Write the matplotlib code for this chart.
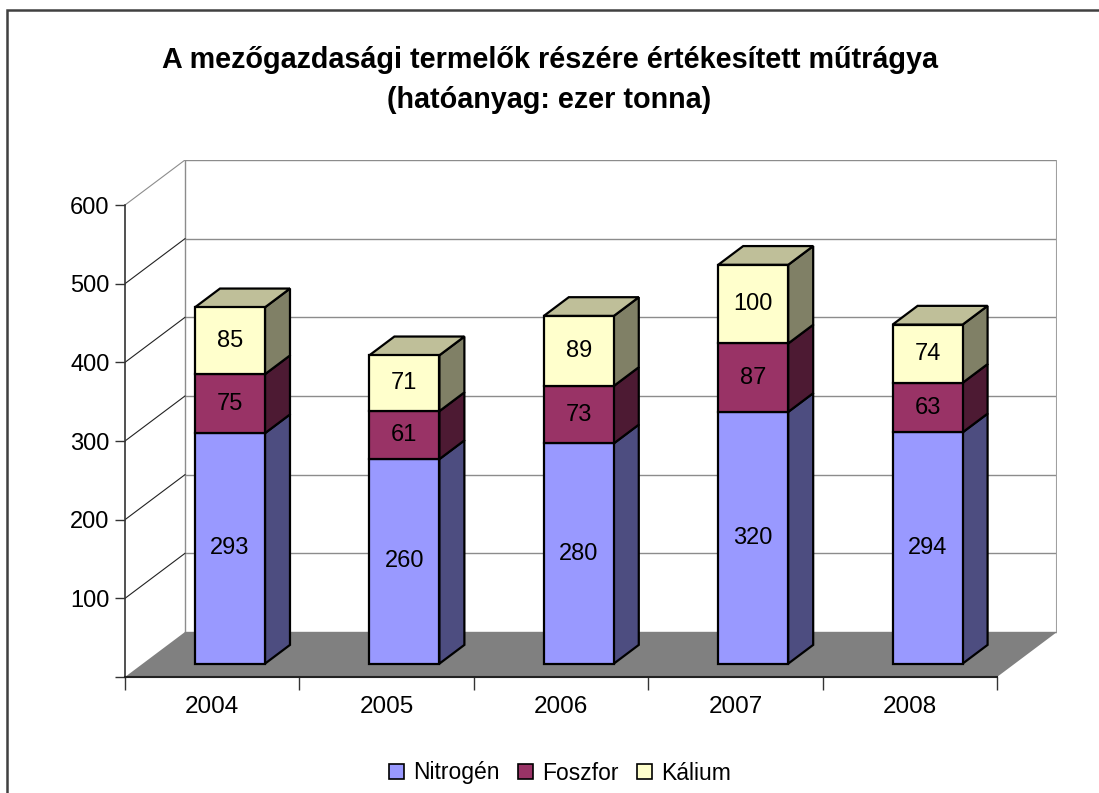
import matplotlib
matplotlib.use("Agg")
import matplotlib.pyplot as plt
from matplotlib.patches import Polygon, Rectangle, Patch
import numpy as np

plt.rcParams['font.family'] = ['Liberation Sans', 'DejaVu Sans']

years = ['2004', '2005', '2006', '2007', '2008']
nitrogen = [293, 260, 280, 320, 294]
foszfor = [75, 61, 73, 87, 63]
kalium = [85, 71, 89, 100, 74]
series_names = ['Nitrogén', 'Foszfor', 'Kálium']
yticks = [0, 100, 200, 300, 400, 500, 600]
title_lines = ['A mezőgazdasági termelők részére értékesített műtrágya',
               '(hatóanyag: ezer tonna)']

front_colors = ['#9999FF', '#993366', '#FFFFCC']
side_colors = ['#4D4D80', '#4D1A33', '#808066']
top_colors = ['#4D4D80', '#4D1A33', '#BFBF99']

W_PX, H_PX = 1099, 793
fig = plt.figure(figsize=(W_PX / 100, H_PX / 100), dpi=100)

# outer frame
fig.patches.append(Rectangle((7 / W_PX, -0.05), 1.2, (783 / H_PX) + 0.05,
                             transform=fig.transFigure, fill=False,
                             edgecolor='#404040', linewidth=1.8))

# geometry (depth offsets in data units)
n = len(years)
ymax = yticks[-1]
DX = 60 / 174.4
DY = 45 / 0.7864
left, right, bottom, top = 125, 1057, 677, 160
ax = fig.add_axes([left / W_PX, (H_PX - bottom) / H_PX,
                   (right - left) / W_PX, (bottom - top) / H_PX])
ax.set_xlim(0, n + DX)
ax.set_ylim(0, ymax + DY)
ax.patch.set_alpha(0)

grid_gray = '#8C8C8C'
# back wall gridlines
for v in yticks:
    ax.plot([DX, n + DX], [v + DY, v + DY], color=grid_gray, lw=1.0, zorder=1)
ax.plot([DX, DX], [DY, ymax + DY], color=grid_gray, lw=1.0, zorder=1)
ax.plot([n + DX, n + DX], [DY, ymax + DY], color='#A0A0A0', lw=1.5, zorder=1)
# side wall diagonals
for v in yticks[1:]:
    c = grid_gray if v == ymax else '#222222'
    ax.plot([0, DX], [v, v + DY], color=c, lw=0.8, zorder=1)

# floor
ax.add_patch(Polygon([(0, 0), (n, 0), (n + DX, DY), (DX, DY)], closed=True,
                     facecolor='#808080', edgecolor='none', zorder=2))

# bars
OXf = 0.102
OY = OXf / DX * DY
BW = 70 / 174.4
BX = 25 / 174.4
BY = BX / DX * DY
xc = np.arange(n) + 0.5
series = [nitrogen, foszfor, kalium]
cum = np.zeros(n)
for s, vals in enumerate(series):
    vals = np.array(vals, dtype=float)
    bx = xc + OXf
    ax.bar(bx, vals, width=BW, bottom=OY + cum, color=front_colors[s],
           edgecolor='black', linewidth=1.6, zorder=5)
    for i in range(n):
        xr = bx[i] + BW / 2
        y0 = OY + cum[i]
        y1 = y0 + vals[i]
        ax.add_patch(Polygon([(xr, y0), (xr, y1), (xr + BX, y1 + BY), (xr + BX, y0 + BY)],
                             closed=True, facecolor=side_colors[s], edgecolor='black',
                             linewidth=1.6, joinstyle='miter', zorder=4))
        if s == len(series) - 1:
            xl = bx[i] - BW / 2
            ax.add_patch(Polygon([(xl, y1), (xr, y1), (xr + BX, y1 + BY), (xl + BX, y1 + BY)],
                                 closed=True, facecolor=top_colors[s], edgecolor='black',
                                 linewidth=1.6, joinstyle='miter', zorder=4))
        ax.text(bx[i], y0 + vals[i] / 2, f'{int(vals[i])}', ha='center', va='center',
                fontsize=17, color='black', zorder=6)
    cum += vals

# axes spines / ticks
for sp in ['top', 'right']:
    ax.spines[sp].set_visible(False)
ax.spines['left'].set_bounds(0, ymax)
ax.spines['bottom'].set_bounds(0, n)
ax.spines['left'].set_color('#333333')
ax.spines['bottom'].set_color('#222222')
ax.spines['left'].set_linewidth(1.2)
ax.spines['bottom'].set_linewidth(1.5)
ax.spines['left'].set_zorder(3)
ax.spines['bottom'].set_zorder(3)
ax.set_yticks(yticks)
ax.set_yticklabels([''] + [str(v) for v in yticks[1:]])
ax.tick_params(axis='y', direction='out', length=7, width=1, color='#333333',
               labelsize=17, pad=4)
ax.set_xticks(xc)
ax.set_xticklabels(years)
ax.set_xticks(np.arange(n + 1), minor=True)
ax.tick_params(axis='x', which='major', length=0, labelsize=17.5, pad=14)
ax.tick_params(axis='x', which='minor', direction='out', length=9, width=1, color='#333333')

fig.text(0.5, 1 - 60 / H_PX, title_lines[0], ha='center', va='center', fontsize=20.7,
         fontweight='bold')
fig.text(0.5, 1 - 100 / H_PX, title_lines[1], ha='center', va='center', fontsize=20.7,
         fontweight='bold')

handles = [Patch(facecolor=front_colors[s], edgecolor='black', linewidth=1.2)
           for s in range(3)]
fig.legend(handles, series_names, loc='center', bbox_to_anchor=(560 / W_PX, 1 - 773 / H_PX),
           ncol=3, frameon=False, fontsize=16.5, handlelength=0.65, handleheight=0.65,
           handletextpad=0.4, columnspacing=0.8)

fig.savefig('out.png', dpi=100)
